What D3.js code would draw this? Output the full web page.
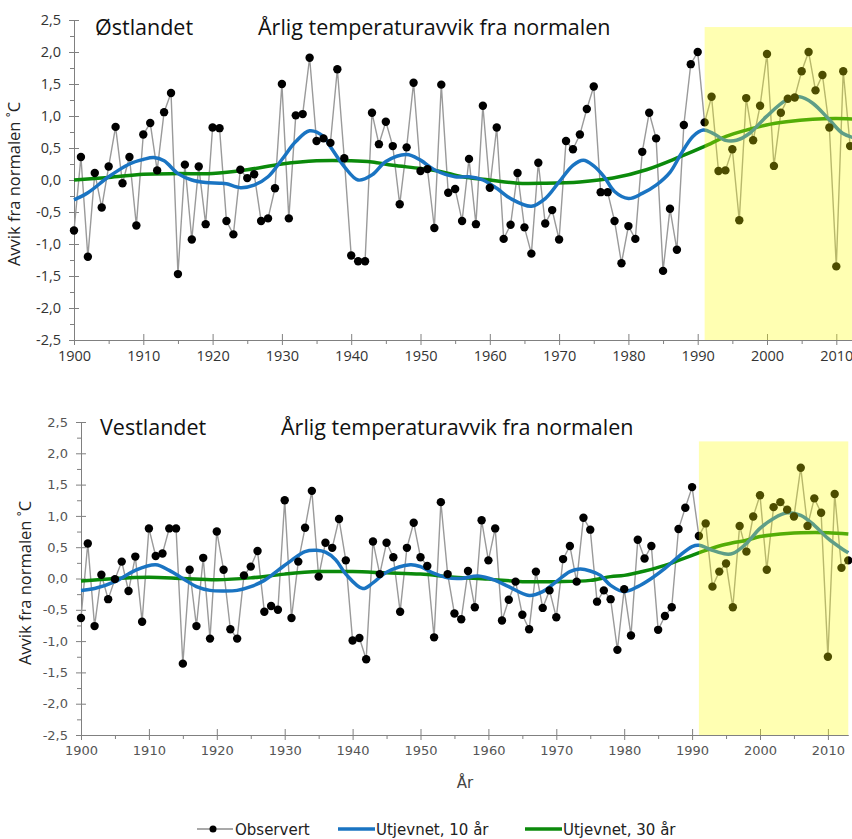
<!DOCTYPE html>
<html>
<head>
<meta charset="utf-8">
<script src="https://cdn.jsdelivr.net/npm/d3@7"></script>
<style>
  body { margin: 0; background: #fff; }
  svg { display: block; }
</style>
</head>
<body>
<svg id="chart" width="852" height="839"></svg>
<script>
// observed annual deviation (°C), one value per year from 1900
const ostObs = [
  -0.79, 0.36, -1.20, 0.11, -0.43, 0.21, 0.83, -0.05, 0.36, -0.71,
  0.71, 0.89, 0.15, 1.06, 1.36, -1.47, 0.24, -0.93, 0.21, -0.69,
  0.82, 0.81, -0.64, -0.85, 0.16, 0.03, 0.09, -0.64, -0.60, -0.13,
  1.50, -0.60, 1.01, 1.03, 1.91, 0.61, 0.65, 0.58, 1.73, 0.34,
  -1.18, -1.27, -1.27, 1.05, 0.56, 0.91, 0.53, -0.38, 0.51, 1.52,
  0.14, 0.17, -0.75, 1.49, -0.20, -0.14, -0.64, 0.33, -0.69, 1.16,
  -0.12, 0.82, -0.92, -0.70, 0.11, -0.74, -1.15, 0.27, -0.68, -0.47,
  -0.93, 0.61, 0.48, 0.71, 1.11, 1.46, -0.19, -0.19, -0.64, -1.30,
  -0.72, -0.92, 0.44, 1.05, 0.65, -1.42, -0.45, -1.09, 0.86, 1.81,
  2.00, 0.90, 1.30, 0.14, 0.15, 0.48, -0.63, 1.28, 0.62, 1.16,
  1.97, 0.22, 1.05, 1.27, 1.29, 1.70, 2.00, 1.40, 1.64, 0.82,
  -1.35, 1.70, 0.53
];
const vestObs = [
  -0.63, 0.56, -0.76, 0.06, -0.33, -0.01, 0.27, -0.20, 0.35, -0.69,
  0.80, 0.36, 0.40, 0.80, 0.80, -1.36, 0.14, -0.76, 0.33, -0.96,
  0.75, 0.14, -0.81, -0.96, 0.05, 0.19, 0.44, -0.53, -0.44, -0.50,
  1.25, -0.63, 0.27, 0.81, 1.40, 0.03, 0.57, 0.49, 0.95, 0.29,
  -0.99, -0.95, -1.29, 0.59, 0.07, 0.57, 0.34, -0.53, 0.49, 0.89,
  0.34, 0.20, -0.94, 1.22, 0.07, -0.56, -0.65, 0.12, -0.46, 0.93,
  0.29, 0.80, -0.67, -0.34, -0.05, -0.58, -0.81, 0.11, -0.47, -0.19,
  -0.62, 0.31, 0.52, -0.05, 0.97, 0.78, -0.37, -0.19, -0.33, -1.14,
  -0.17, -0.91, 0.62, 0.32, 0.52, -0.82, -0.60, -0.46, 0.79, 1.13,
  1.46, 0.68, 0.88, -0.13, 0.11, 0.24, -0.46, 0.84, 0.43, 0.99,
  1.33, 0.14, 1.14, 1.22, 1.10, 0.99, 1.77, 0.84, 1.28, 1.05,
  -1.25, 1.35, 0.17, 0.29
];
const startYear = 1900;

// smoothed curves, [year, value]
const ostTen = [[1900,-0.31],[1902,-0.2],[1905,0.05],[1908,0.25],[1910,0.32],[1911.5,0.35],[1913,0.3],[1915,0.1],
  [1917,0.0],[1919,-0.04],[1921,-0.05],[1922,-0.06],[1924,-0.12],[1926,-0.08],[1928,0.05],[1930,0.32],[1932,0.6],
  [1934,0.77],[1936,0.68],[1937,0.52],[1939,0.21],[1941,0.0],[1943,0.08],[1945,0.29],[1948,0.4],[1950,0.31],
  [1952,0.16],[1955,0.05],[1957,0.05],[1959,0.0],[1961,-0.13],[1963,-0.29],[1966,-0.41],[1968,-0.29],[1970,-0.03],
  [1972,0.23],[1973.5,0.31],[1975,0.22],[1976.5,0.05],[1978,-0.18],[1980,-0.29],[1982,-0.21],[1984,-0.08],
  [1986,0.12],[1987.5,0.39],[1989.3,0.68],[1990.8,0.78],[1992.2,0.73],[1994,0.62],[1995.6,0.62],[1997.5,0.73],
  [1999.9,0.99],[2002.8,1.25],[2004.7,1.30],[2006.6,1.20],[2009,0.94],[2010.9,0.73],[2012.5,0.66]];
const ostThirty = [[1900,0.0],[1905,0.04],[1910,0.09],[1915,0.10],[1920,0.10],[1925,0.16],[1930,0.25],[1935,0.30],
  [1940,0.30],[1943,0.28],[1946,0.23],[1950,0.18],[1953,0.13],[1956,0.05],[1960,0.0],[1964,-0.05],[1968,-0.05],
  [1973,-0.03],[1977.8,0.03],[1982.6,0.16],[1987.4,0.36],[1990.9,0.52],[1994.1,0.68],[1997,0.78],[1999.9,0.86],
  [2002.8,0.91],[2006.6,0.95],[2010,0.96],[2013,0.95]];
const vestTen = [[1900,-0.19],[1902,-0.16],[1905,-0.05],[1908,0.13],[1911,0.22],[1913,0.13],[1915,0.0],[1917,-0.13],
  [1919,-0.19],[1921,-0.2],[1923,-0.19],[1925,-0.13],[1927,-0.03],[1929,0.13],[1931,0.29],[1933,0.43],[1934.7,0.45],
  [1936,0.42],[1937.5,0.3],[1939,0.07],[1941.5,-0.16],[1943,-0.07],[1945,0.1],[1948.5,0.22],[1950,0.19],[1952,0.08],
  [1954,0.01],[1956,0.0],[1958.5,0.04],[1961,-0.03],[1963,-0.13],[1966,-0.27],[1968,-0.21],[1970,-0.05],[1972,0.11],
  [1973.5,0.15],[1975,0.12],[1976.5,0.05],[1978,-0.11],[1980,-0.21],[1982,-0.13],[1984,0.0],[1986,0.16],[1988,0.35],
  [1990,0.51],[1991,0.53],[1993,0.45],[1995,0.39],[1996,0.40],[1998,0.56],[2000,0.80],[2002,0.96],[2004,1.05],
  [2006,1.01],[2008,0.85],[2010,0.64],[2012,0.48],[2013,0.41]];
const vestThirty = [[1900,-0.04],[1905,0.0],[1910,0.02],[1915,0.0],[1920,-0.02],[1925,0.01],[1930,0.07],[1935,0.11],
  [1940,0.11],[1945,0.09],[1950,0.07],[1955,0.02],[1960,-0.01],[1965,-0.05],[1970,-0.05],[1975,-0.03],[1978,0.03],
  [1980,0.05],[1983,0.12],[1986,0.21],[1988,0.29],[1990,0.37],[1992,0.45],[1994,0.52],[1996,0.57],[1998,0.61],
  [2000,0.67],[2002,0.70],[2004,0.72],[2006,0.73],[2010,0.73],[2013,0.71]];

const yMajor = [-2.5, -2, -1.5, -1, -0.5, 0, 0.5, 1, 1.5, 2, 2.5];
const yMinor = [-2.25, -1.75, -1.25, -0.75, -0.25, 0.25, 0.75, 1.25, 1.75, 2.25];
const xMajor = [1900, 1910, 1920, 1930, 1940, 1950, 1960, 1970, 1980, 1990, 2000, 2010];
const xMinor = [1905, 1915, 1925, 1935, 1945, 1955, 1965, 1975, 1985, 1995, 2005];
const bandStart = 1991;
const title = "Årlig temperaturavvik fra normalen";
const yLabel = "Avvik fra normalen ˚C";
const legendItems = ["Observert", "Utjevnet, 10 år", "Utjevnet, 30 år"];

const blue = "#1a74c2", green = "#0b8a0b", obsGrey = "#9a9a9a";

const svg = d3.select("#chart");
const fmt = d => d3.format(".1f")(d).replace(".", ",").replace("\u2212", "-");

let panels = [
  {region: "Østlandet", obs: ostObs, ten: ostTen, thirty: ostThirty,
   xr: [74, 74 + 113 * 6.93], yr: [340, 20], bandTop: 2.39,
   titleY: 35, regionX: 95, titleX: 258, ylab: [20, 184], tickFont: "'Open Sans'", tickSize: 14.5, tickColor: "#333"},
  {region: "Vestlandet", obs: vestObs, ten: vestTen, thirty: vestThirty,
   xr: [81, 81 + 113 * 6.79], yr: [735, 422], bandTop: 2.19,
   titleY: 435, regionX: 100, titleX: 281, ylab: [31, 583], tickFont: "'DejaVu Sans'", tickSize: 13, tickColor: "#555"}
];

panels.forEach(function(p){
  let x = d3.scaleLinear().domain([1900, 2013]).range(p.xr);
  let y = d3.scaleLinear().domain([-2.5, 2.5]).range(p.yr);
  let g = svg.append("g").attr("class", "panel");

  // axes
  let yAxis = g.append("g").attr("transform", "translate(" + p.xr[0] + ",0)")
    .call(d3.axisLeft(y).tickValues(yMajor).tickFormat(fmt).tickSize(5).tickSizeOuter(0).tickPadding(8));
  yAxis.selectAll(".tick line").attr("x1", 5);
  g.append("g").attr("transform", "translate(" + p.xr[0] + ",0)")
    .call(d3.axisLeft(y).tickValues(yMinor).tickFormat("").tickSize(4))
    .call(a => a.select(".domain").remove());

  let xAxis = g.append("g").attr("transform", "translate(0," + p.yr[0] + ")")
    .call(d3.axisBottom(x).tickValues(xMajor).tickFormat(d3.format("d")).tickSize(5).tickSizeOuter(0).tickPadding(6));
  xAxis.selectAll(".tick line").attr("y1", -6);
  g.append("g").attr("transform", "translate(0," + p.yr[0] + ")")
    .call(d3.axisBottom(x).tickValues(xMinor).tickFormat("").tickSize(4))
    .call(a => a.select(".domain").remove());

  g.selectAll(".domain, .tick line").attr("stroke", "#808080");
  g.selectAll(".tick text").attr("font-family", p.tickFont).attr("font-size", p.tickSize).attr("fill", p.tickColor);

  // observed
  let years = p.obs.map((d, i) => startYear + i);
  let obsLine = d3.line().x((d, i) => x(years[i])).y(d => y(d));
  g.append("path").attr("d", obsLine(p.obs)).attr("fill", "none").attr("stroke", obsGrey).attr("stroke-width", 1.4);

  let smooth = d3.line().x(d => x(d[0])).y(d => y(d[1])).curve(d3.curveCatmullRom.alpha(0.5));
  g.append("path").attr("d", smooth(p.thirty)).attr("fill", "none").attr("stroke", green).attr("stroke-width", 3.5);
  g.append("path").attr("d", smooth(p.ten)).attr("fill", "none").attr("stroke", blue).attr("stroke-width", 3.5);

  g.selectAll(".dot").data(p.obs).enter().append("circle")
    .attr("cx", (d, i) => x(years[i])).attr("cy", d => y(d)).attr("r", 4.2).attr("fill", "#000");

  // highlighted period (drawn on top, translucent)
  g.append("rect").attr("x", x(bandStart)).attr("y", y(p.bandTop))
    .attr("width", x(2013) - x(bandStart)).attr("height", y(-2.5) - y(p.bandTop))
    .attr("fill", "#ffff00").attr("fill-opacity", 0.3);

  // titles
  g.append("text").attr("x", p.regionX).attr("y", p.titleY).text(p.region)
    .attr("font-family", "'Open Sans'").attr("font-size", 21.5).attr("fill", "#111");
  g.append("text").attr("x", p.titleX).attr("y", p.titleY).text(title)
    .attr("font-family", "'Open Sans'").attr("font-size", 21.5).attr("fill", "#111");
  g.append("text").attr("transform", "translate(" + p.ylab[0] + "," + p.ylab[1] + ") rotate(-90)")
    .attr("text-anchor", "middle").text(yLabel)
    .attr("font-family", "'Open Sans'").attr("font-size", 16.5).attr("fill", "#222");
});

svg.append("text").attr("x", 465).attr("y", 788).attr("text-anchor", "middle").text("År")
  .attr("font-family", "'DejaVu Sans'").attr("font-size", 15).attr("fill", "#444");

// legend
let legend = svg.append("g").attr("class", "legend");
let lx = [197, 338, 525];
legendItems.forEach(function(name, i){
  let item = legend.append("g").attr("transform", "translate(" + lx[i] + ",829)");
  if(i == 0){
    item.append("line").attr("x1", 0).attr("x2", 36).attr("stroke", "#555").attr("stroke-width", 1.2);
    item.append("circle").attr("cx", 16).attr("r", 3.5).attr("fill", "#000");
  }else{
    item.append("line").attr("x1", 0).attr("x2", 37).attr("stroke", i == 1 ? blue : green).attr("stroke-width", 3.5);
  }
  item.append("text").attr("x", 38).attr("y", 5.5).text(name)
    .attr("font-family", "'DejaVu Sans'").attr("font-size", 15).attr("fill", "#222");
});
</script>
</body>
</html>
